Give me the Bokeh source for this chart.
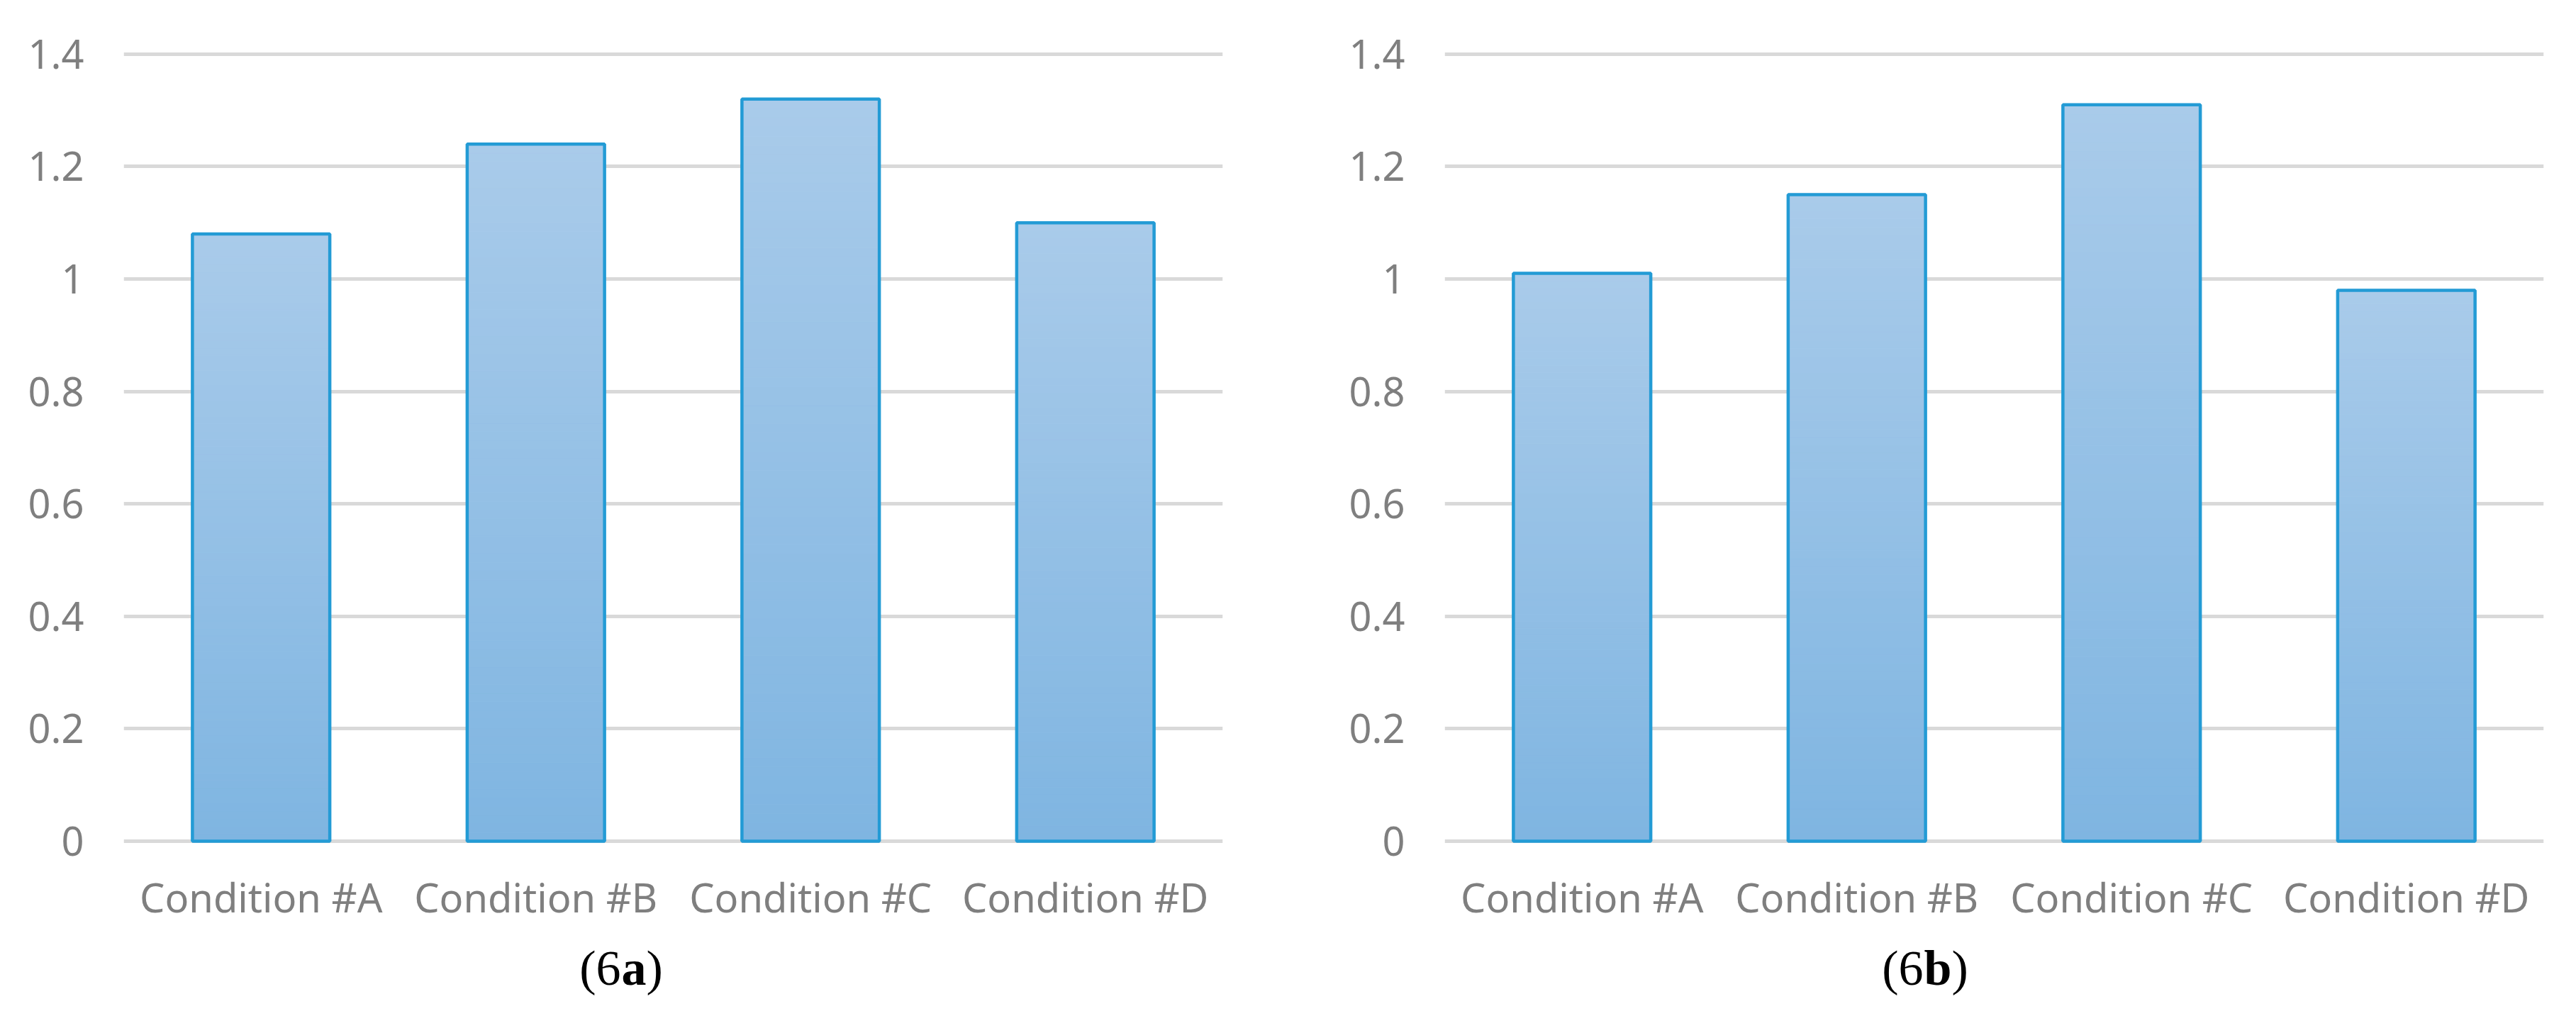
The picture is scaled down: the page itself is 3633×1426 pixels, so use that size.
from bokeh.plotting import figure
from bokeh.layouts import row
from bokeh.models import Range1d, FactorRange, Label, FixedTicker
from bokeh.embed import file_html
from bokeh.resources import INLINE

# ---- data ----
categories = ["Condition #A", "Condition #B", "Condition #C", "Condition #D"]
values_a = [1.08, 1.24, 1.32, 1.10]
values_b = [1.01, 1.15, 1.31, 0.98]
y_ticks = [0, 0.2, 0.4, 0.6, 0.8, 1.0, 1.2, 1.4]
y_tick_labels = ["0", "0.2", "0.4", "0.6", "0.8", "1", "1.2", "1.4"]
caption_a = ("(6", "a", ")")
caption_b = ("(6", "b", ")")

# ---- style ----
FONT = "Noto Sans"
TXT = "#7f7f7f"
GRID = "#d9d9d9"
EDGE = "#239bd5"
TOP_C = (0xA9, 0xCB, 0xEA)
BOT_C = (0x7F, 0xB5, 0xE1)
N_SLICES = 80
TOP_B = 60
H = 1410


def mix(t):
    r = [round(BOT_C[i] + (TOP_C[i] - BOT_C[i]) * t) for i in range(3)]
    return "#%02x%02x%02x" % tuple(r)


def make(vals, caption, width, bl, br, cap_x, close_off):
    p = figure(x_range=FactorRange(*categories), y_range=Range1d(-0.28, 1.42),
               width=width, height=H,
               min_border_left=bl, min_border_right=br, min_border_top=TOP_B,
               min_border_bottom=2,
               output_backend="svg", toolbar_location=None)
    p.outline_line_color = None
    p.background_fill_color = "white"
    p.border_fill_color = "white"

    p.yaxis.ticker = FixedTicker(ticks=y_ticks)
    p.yaxis.major_label_overrides = {t: l for t, l in zip(y_ticks, y_tick_labels)}
    for ax in (p.xaxis[0], p.yaxis[0]):
        ax.axis_line_color = None
        ax.major_tick_line_color = None
        ax.minor_tick_line_color = None
        ax.major_label_text_font = FONT
        ax.major_label_text_font_size = "56px"
        ax.major_label_text_color = TXT
    p.yaxis.major_label_standoff = 50
    p.xaxis.fixed_location = 0
    p.xaxis.major_label_standoff = 35
    p.xaxis.major_label_orientation = "horizontal"

    p.xgrid.grid_line_color = None
    p.ygrid.grid_line_color = GRID
    p.ygrid.grid_line_width = 5

    # gradient-filled bars made of thin horizontal slices
    xs, bots, tops, cols = [], [], [], []
    for c, v in zip(categories, vals):
        for i in range(N_SLICES):
            xs.append(c)
            bots.append(v * i / N_SLICES)
            tops.append(v * (i + 1) / N_SLICES)
            cols.append(mix((i + 0.5) / N_SLICES))
    p.vbar(x=xs, bottom=bots, top=tops, width=0.5, fill_color=cols,
           line_color=cols, line_width=1)
    # outlines
    p.vbar(x=categories, top=vals, bottom=0, width=0.5, fill_color=None,
           line_color=EDGE, line_width=4.5)

    # caption "(6a)" with bold letter
    common = dict(y=-0.226, text_font="Liberation Serif", text_font_size="70px",
                  text_color="black", text_baseline="middle")
    p.add_layout(Label(x=cap_x, text=caption[0], text_align="right", **common))
    p.add_layout(Label(x=cap_x, text=caption[1], text_align="left",
                       text_font_style="bold", x_offset=1, **common))
    p.add_layout(Label(x=cap_x, text=caption[2], text_align="left",
                       x_offset=close_off, **common))
    return p


p1 = make(values_a, caption_a, 1808, 174, 84, 1.809, 36)
p2 = make(values_b, caption_b, 1809, 229, 30, 1.742, 40)
layout = row(p1, p2)

open("out.html", "w").write(file_html(layout, INLINE))
